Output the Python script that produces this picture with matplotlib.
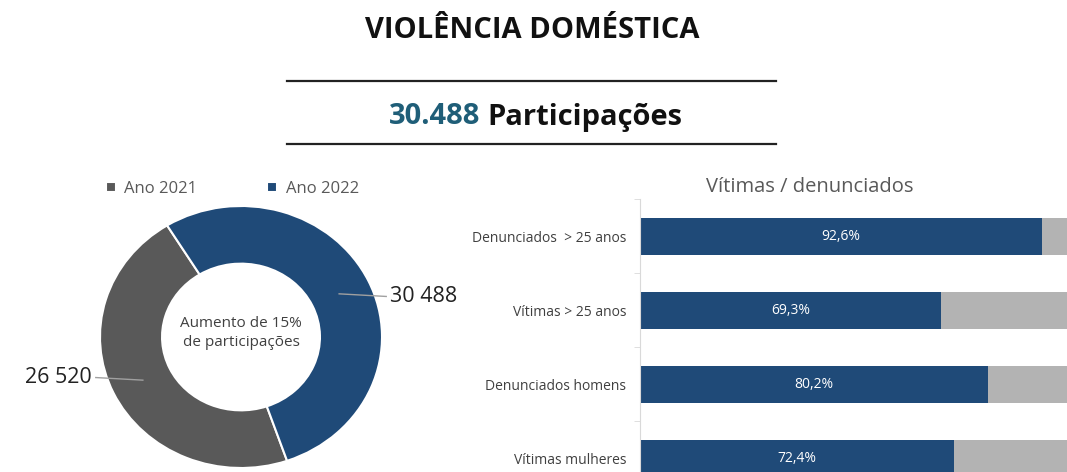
import numpy as np
import matplotlib.pyplot as plt
from matplotlib.lines import Line2D

# dados
anos = ["Ano 2021", "Ano 2022"]
participacoes = [26520, 30488]
rotulos_part = ["26 520", "30 488"]

categorias = ["Denunciados  > 25 anos", "Vítimas > 25 anos", "Denunciados homens", "Vítimas mulheres"]
percentuais = [92.6, 69.3, 80.2, 72.4]

AZUL = "#1F4A78"
CINZA = "#595959"
CINZA_CLARO = "#B3B3B3"
W, H = 1067, 472

plt.rcParams["font.family"] = ["Open Sans", "DejaVu Sans"]

fig = plt.figure(figsize=(W / 100, H / 100), dpi=100)

# cabeçalho
fig.text(532 / W, 1 - 31 / H, "VIOLÊNCIA DOMÉSTICA", ha="center", va="center",
         fontsize=21, fontweight="bold", color="#111111")
for y in (81, 144):
    fig.add_artist(Line2D([287 / W, 776 / W], [1 - y / H, 1 - y / H], color="#222222", lw=1.6))
fig.text(480 / W, 1 - 117 / H, "30.488", ha="right", va="center",
         fontsize=21, fontweight="bold", color="#1F5E78")
fig.text(487 / W, 1 - 117 / H, "Participações", ha="left", va="center",
         fontsize=21, fontweight="bold", color="#111111")

# rosca
ax1 = fig.add_axes([100 / W, (H - 468) / H, 282 / W, 262 / H])
wedges, _ = ax1.pie(participacoes, colors=[CINZA, AZUL], startangle=121.6,
                    wedgeprops=dict(width=0.44, edgecolor="white", linewidth=1.5))
ax1.set_aspect("auto")
ax1.set_xlim(-1, 1)
ax1.set_ylim(-1, 1)
ax1.text(0, 0.03, "Aumento de 15%\nde participações", ha="center", va="center",
         fontsize=11, color="#404040", linespacing=1.3)

for w, rot in zip(wedges, rotulos_part):
    ang = np.deg2rad((w.theta1 + w.theta2) / 2)
    x0, y0 = 0.77 * np.cos(ang), 0.77 * np.sin(ang)
    lado = np.sign(np.cos(ang))
    x1 = lado * 1.03
    ax1.plot([x0, x1], [y0, y0 - 0.02 * lado], color="#A0A0A0", lw=1, clip_on=False)
    ax1.text(x1 + lado * 0.03, y0 - 0.02 * lado, rot, ha="left" if lado > 0 else "right",
             va="center", fontsize=15.5, color="#222222")

ax1.legend(wedges, anos, loc="lower center", bbox_to_anchor=(0.47, 0.99), ncol=2,
           frameon=False, fontsize=12, handlelength=0.6, handleheight=0.6,
           columnspacing=4.2, labelcolor=CINZA, handletextpad=0.5, borderaxespad=0.3)

# barras
ax2 = fig.add_axes([640 / W, (H - 495) / H, 434 / W, 296 / H])
y = np.arange(len(categorias))
p = np.array(percentuais) / 100
ax2.barh(y, p, height=0.5, color=AZUL)
ax2.barh(y, 1 - p, left=p, height=0.5, color=CINZA_CLARO)
for yi, pi, v in zip(y, p, percentuais):
    ax2.text(pi / 2, yi, f"{v:.1f}%".replace(".", ","), ha="center", va="center",
             fontsize=10, color="white")
ax2.set_xlim(0, 1)
ax2.set_ylim(len(categorias) - 0.5, -0.5)
ax2.set_yticks(y, categorias, fontsize=10, color="#404040")
ax2.set_yticks(np.arange(len(categorias) + 1) - 0.5, minor=True)
ax2.tick_params(axis="y", which="major", length=0, pad=10)
ax2.tick_params(axis="y", which="minor", length=4, color="#D9D9D9")
ax2.set_xticks([])
for s in ("top", "right", "bottom"):
    ax2.spines[s].set_visible(False)
ax2.spines["left"].set_color("#D9D9D9")
fig.text(810 / W, 1 - 187 / H, "Vítimas / denunciados", ha="center", va="center",
         fontsize=14.5, color=CINZA)

fig.savefig("out.png", dpi=100)
